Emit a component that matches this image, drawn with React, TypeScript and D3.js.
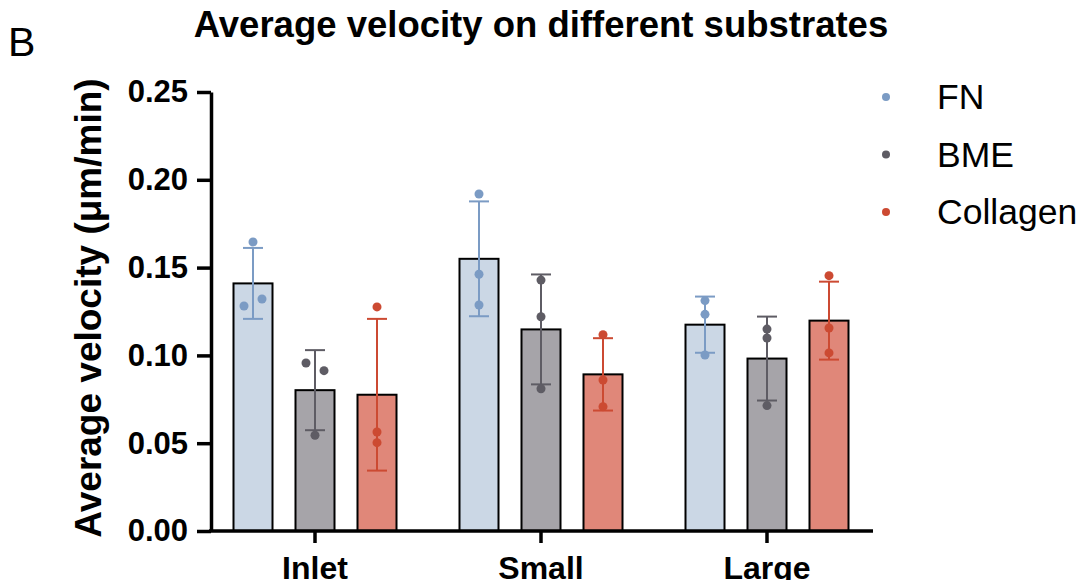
import { useEffect, useRef } from 'react';
import * as d3 from 'd3';

const categories = ['Inlet', 'Small', 'Large'];
const seriesNames = ['FN', 'BME', 'Collagen'];

// bar heights (mean) per series, in category order
const fnMean = [0.141, 0.155, 0.1175];
const bmeMean = [0.0802, 0.1148, 0.0982];
const collagenMean = [0.0776, 0.0892, 0.1198];

// error bar half-length (SD)
const fnSd = [0.0202, 0.0327, 0.016];
const bmeSd = [0.0228, 0.0313, 0.0239];
const collagenSd = [0.0432, 0.0206, 0.0222];

// individual replicate points
const fnPoints = [
  [0.1646, 0.1281, 0.1321],
  [0.1919, 0.1462, 0.1287],
  [0.1312, 0.1234, 0.1002],
];
const bmePoints = [
  [0.0957, 0.0913, 0.0545],
  [0.1429, 0.122, 0.081],
  [0.115, 0.1099, 0.0714],
];
const collagenPoints = [
  [0.1276, 0.0564, 0.0503],
  [0.1118, 0.086, 0.0708],
  [0.1454, 0.1156, 0.1014],
];

const yTicks = [0, 0.05, 0.1, 0.15, 0.2, 0.25];

const dotColors = ['#7b9bc4', '#5e5c64', '#cc4a32'];
const fillColors = ['#cbd7e5', '#a6a4a9', '#e08779'];

const font = '"Liberation Sans", Arial, Helvetica, sans-serif';

export default function App() {
  const svgRef = useRef<SVGSVGElement>(null);

  useEffect(() => {
    if (!svgRef.current) return;
    const svg = d3.select(svgRef.current);
    svg.selectAll('*').remove();

    const means = [fnMean, bmeMean, collagenMean];
    const sds = [fnSd, bmeSd, collagenSd];
    const points = [fnPoints, bmePoints, collagenPoints];

    const x = d3.scaleBand().domain(categories).range([202, 880]);
    const inner = d3.scalePoint().domain(seriesNames).range([-62, 62]);
    const y = d3.scaleLinear().domain([0, 0.25]).range([531, 92]);
    const barW = 39;

    // title + panel letter
    svg.append('text')
      .attr('x', 8).attr('y', 56)
      .attr('font-family', font).attr('font-size', 41)
      .text('B');
    svg.append('text')
      .attr('x', 541).attr('y', 37)
      .attr('text-anchor', 'middle')
      .attr('font-family', font).attr('font-size', 36.5).attr('font-weight', 'bold')
      .text('Average velocity on different substrates');

    // bars, error bars, points
    seriesNames.forEach((s, si) => {
      const g = svg.append('g');
      categories.forEach((c, ci) => {
        const cx = (x(c) ?? 0) + x.bandwidth() / 2 + (inner(s) ?? 0);
        const m = means[si][ci];
        const sd = sds[si][ci];
        g.append('rect')
          .attr('x', cx - barW / 2)
          .attr('y', y(m))
          .attr('width', barW)
          .attr('height', y(0) - y(m))
          .attr('fill', fillColors[si])
          .attr('stroke', '#000')
          .attr('stroke-width', 2);

        const eb = g.append('g').attr('stroke', dotColors[si]).attr('stroke-width', 2);
        eb.append('line').attr('x1', cx).attr('x2', cx).attr('y1', y(m + sd)).attr('y2', y(m - sd));
        eb.append('line').attr('x1', cx - 10).attr('x2', cx + 10).attr('y1', y(m + sd)).attr('y2', y(m + sd));
        eb.append('line').attr('x1', cx - 10).attr('x2', cx + 10).attr('y1', y(m - sd)).attr('y2', y(m - sd));

        // spread points that would overlap side by side
        const pts = points[si][ci];
        const offs = pts.map(() => 0);
        for (let i = 0; i < pts.length; i++) {
          for (let j = i + 1; j < pts.length; j++) {
            if (Math.abs(y(pts[i]) - y(pts[j])) < 8.5 && offs[i] === 0 && offs[j] === 0) {
              offs[i] = -9;
              offs[j] = 9;
            }
          }
        }
        g.selectAll(null)
          .data(pts)
          .join('circle')
          .attr('cx', (_, i) => cx + offs[i])
          .attr('cy', d => y(d))
          .attr('r', 4.5)
          .attr('fill', dotColors[si]);
      });
    });

    // y axis
    const yAxis = svg.append('g')
      .attr('transform', 'translate(211,0)')
      .call(d3.axisLeft(y).tickValues(yTicks).tickFormat(d3.format('.2f')).tickSize(14).tickSizeOuter(0).tickPadding(9));
    yAxis.select('.domain').attr('stroke-width', 3.5);
    yAxis.selectAll('.tick line').attr('stroke-width', 3.5);
    yAxis.selectAll('.tick text')
      .attr('font-family', font).attr('font-size', 31).attr('font-weight', 'bold').attr('fill', '#000');

    // x axis
    const xAxis = svg.append('g')
      .attr('transform', `translate(0,${y(0)})`)
      .call(d3.axisBottom(x).tickSize(12).tickSizeOuter(0).tickPadding(13));
    xAxis.select('.domain').remove();
    xAxis.append('line')
      .attr('x1', 209).attr('x2', 873).attr('y1', 0).attr('y2', 0)
      .attr('stroke', '#000').attr('stroke-width', 3.5);
    xAxis.selectAll('.tick line').attr('stroke-width', 3.5);
    xAxis.selectAll('.tick text')
      .attr('font-family', font).attr('font-size', 32).attr('font-weight', 'bold').attr('fill', '#000');

    // y label
    svg.append('text')
      .attr('transform', 'translate(101,308) rotate(-90)')
      .attr('text-anchor', 'middle')
      .attr('font-family', font).attr('font-size', 37).attr('font-weight', 'bold')
      .text('Average velocity (μm/min)');

    // legend
    const legend = svg.append('g');
    seriesNames.forEach((s, i) => {
      const ly = 97 + i * 57.5;
      legend.append('circle').attr('cx', 886).attr('cy', ly).attr('r', 4).attr('fill', dotColors[i]);
      legend.append('text')
        .attr('x', 937).attr('y', ly + 12)
        .attr('font-family', font).attr('font-size', 35.5)
        .text(s);
    });
  }, []);

  return (
    <svg
      ref={svgRef}
      width={1086}
      height={580}
      style={{ position: 'absolute', left: 0, top: 0, background: '#fff' }}
    />
  );
}
